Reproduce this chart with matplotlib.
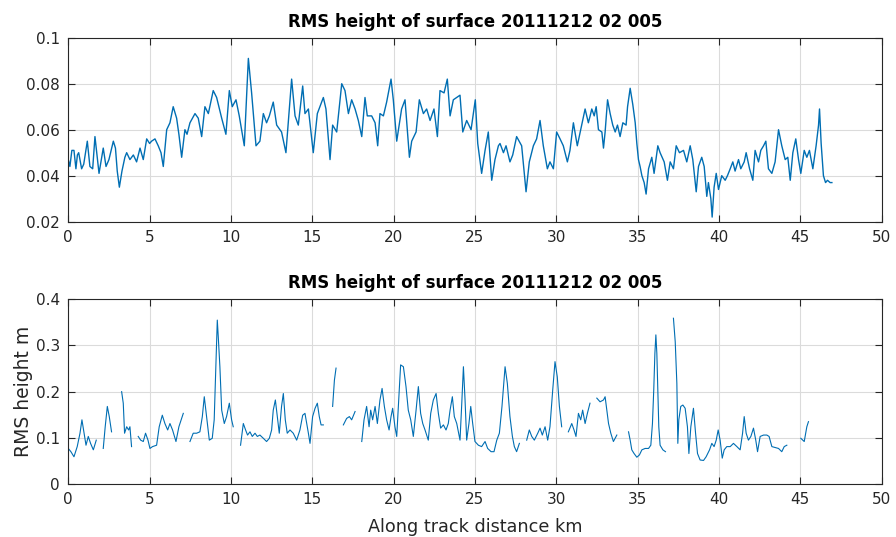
import numpy as np
import matplotlib
matplotlib.use("Agg")
import matplotlib.pyplot as plt

# ---------------- data ----------------
title_text = "RMS height of surface 20111212 02 005"
xlabel_text = "Along track distance km"
ylabel_text = "RMS height m"

top_km = [0.00, 0.10, 0.22, 0.35, 0.47, 0.56, 0.64, 0.82, 0.95, 1.17, 1.33, 1.50, 1.64, 1.75, 1.89,
          2.15, 2.32, 2.50, 2.77, 2.90, 3.01, 3.14, 3.30, 3.48, 3.59, 3.79, 4.00, 4.20, 4.41, 4.61,
          4.82, 5.00, 5.12, 5.33, 5.53, 5.70, 5.84, 6.05, 6.25, 6.45, 6.66, 6.80, 6.97, 7.17, 7.30,
          7.48, 7.79, 7.99, 8.20, 8.40, 8.61, 8.91, 9.12, 9.43, 9.69, 9.90, 10.08, 10.31, 10.51,
          10.82, 11.07, 11.27, 11.54, 11.78, 11.99, 12.19, 12.36, 12.60, 12.81, 13.11, 13.38, 13.73,
          13.94, 14.14, 14.41, 14.55, 14.76, 15.06, 15.31, 15.47, 15.68, 15.84, 16.09, 16.25, 16.50,
          16.81, 17.01, 17.22, 17.42, 17.63, 17.83, 18.04, 18.24, 18.38, 18.65, 18.86, 19.02, 19.16,
          19.37, 19.57, 19.84, 19.98, 20.19, 20.49, 20.70, 20.97, 21.11, 21.38, 21.58, 21.83, 22.03,
          22.24, 22.48, 22.69, 22.85, 23.10, 23.30, 23.47, 23.67, 23.88, 24.08, 24.25, 24.49, 24.76,
          25.02, 25.17, 25.41, 25.62, 25.82, 26.03, 26.23, 26.44, 26.54, 26.75, 26.91, 27.15, 27.32,
          27.56, 27.87, 28.14, 28.34, 28.59, 28.79, 29.00, 29.20, 29.45, 29.61, 29.82, 30.02, 30.23,
          30.43, 30.68, 30.84, 31.05, 31.29, 31.56, 31.77, 31.97, 32.08, 32.18, 32.33, 32.45, 32.59,
          32.80, 32.90, 33.00, 33.15, 33.31, 33.47, 33.62, 33.76, 33.92, 34.09, 34.29, 34.38, 34.54,
          34.70, 34.85, 34.95, 35.05, 35.15, 35.26, 35.40, 35.52, 35.67, 35.87, 36.01, 36.24, 36.38,
          36.63, 36.83, 37.00, 37.20, 37.37, 37.57, 37.82, 38.02, 38.23, 38.39, 38.60, 38.74, 38.94,
          39.09, 39.25, 39.35, 39.50, 39.58, 39.70, 39.83, 39.97, 40.17, 40.38, 40.52, 40.69, 40.85,
          40.99, 41.20, 41.34, 41.55, 41.67, 41.88, 42.08, 42.22, 42.43, 42.57, 42.74, 42.88, 43.04,
          43.25, 43.45, 43.66, 43.86, 44.07, 44.23, 44.38, 44.54, 44.72, 44.89, 45.03, 45.24, 45.40,
          45.56, 45.77, 45.97, 46.12, 46.18, 46.28, 46.42, 46.55, 46.67, 46.83, 46.94]
top_rms = [0.047, 0.044, 0.051, 0.051, 0.043, 0.049, 0.050, 0.043, 0.045, 0.055, 0.044, 0.043, 0.057, 0.050, 0.041,
           0.052, 0.044, 0.047, 0.055, 0.052, 0.042, 0.035, 0.042, 0.048, 0.050, 0.047, 0.049, 0.046, 0.052, 0.047,
           0.056, 0.054, 0.055, 0.056, 0.053, 0.050, 0.044, 0.060, 0.063, 0.070, 0.065, 0.058, 0.048, 0.060, 0.058,
           0.063, 0.067, 0.065, 0.057, 0.070, 0.067, 0.077, 0.074, 0.065, 0.058, 0.077, 0.070, 0.073, 0.066,
           0.053, 0.091, 0.076, 0.053, 0.055, 0.067, 0.063, 0.066, 0.072, 0.062, 0.059, 0.050, 0.082,
           0.066, 0.062, 0.079, 0.067, 0.069, 0.050, 0.067, 0.070, 0.074, 0.069, 0.047, 0.062, 0.059,
           0.080, 0.077, 0.067, 0.073, 0.069, 0.064, 0.057, 0.074, 0.066, 0.066, 0.063, 0.053, 0.067,
           0.066, 0.072, 0.082, 0.073, 0.055, 0.069, 0.073, 0.048, 0.055, 0.059, 0.073, 0.067, 0.069,
           0.064, 0.069, 0.057, 0.077, 0.076, 0.082, 0.066, 0.073, 0.074, 0.075, 0.059, 0.064, 0.060,
           0.073, 0.054, 0.041, 0.051, 0.059, 0.038, 0.047, 0.053, 0.054, 0.050, 0.053, 0.046, 0.049,
           0.057, 0.053, 0.033, 0.046, 0.053, 0.056, 0.064, 0.053, 0.043, 0.046, 0.043, 0.059, 0.056,
           0.053, 0.046, 0.051, 0.063, 0.053, 0.062, 0.069, 0.063, 0.066, 0.069, 0.066, 0.070, 0.060,
           0.059, 0.052, 0.059, 0.073, 0.067, 0.062, 0.059, 0.062, 0.057, 0.063, 0.062, 0.070, 0.078,
           0.071, 0.063, 0.054, 0.047, 0.044, 0.040, 0.037, 0.032, 0.043, 0.048, 0.041, 0.053, 0.050,
           0.046, 0.038, 0.046, 0.043, 0.053, 0.050, 0.051, 0.046, 0.053, 0.047, 0.033, 0.044, 0.048,
           0.044, 0.031, 0.037, 0.030, 0.022, 0.035, 0.041, 0.034, 0.040, 0.038, 0.040, 0.043, 0.046,
           0.042, 0.047, 0.043, 0.046, 0.050, 0.043, 0.038, 0.051, 0.046, 0.051, 0.053, 0.055, 0.043,
           0.041, 0.046, 0.060, 0.053, 0.047, 0.048, 0.038, 0.050, 0.056, 0.047, 0.041, 0.051, 0.048,
           0.051, 0.043, 0.053, 0.062, 0.069, 0.054, 0.040, 0.037, 0.038, 0.037, 0.037]

nan = np.nan
bot_km = [0.00, 0.16, 0.35, 0.55, 0.72, 0.84, 0.96, 1.09, 1.23, 1.37, 1.54, 1.72, nan,
          2.15, 2.27, 2.40, 2.52, 2.66, nan,
          3.28, 3.38, 3.46, 3.59, 3.71, 3.79, 3.89, nan,
          4.30, 4.45, 4.61, 4.75, 4.90, 5.02, 5.18, 5.43, 5.59, 5.78, 5.94, 6.11, 6.25, 6.41, 6.62, 6.80, 7.07, nan,
          7.48, 7.68, 7.89, 8.09, 8.24, 8.36, 8.50, 8.67, 8.85, 8.97, 9.08, 9.16, 9.22, 9.32, 9.43, 9.59,
          9.73, 9.90, 10.04, 10.14, nan,
          10.59, 10.76, 10.90, 11.02, 11.17, 11.31, 11.48, 11.62, 11.78, 11.99, 12.19, 12.36, 12.50, 12.60,
          12.73, 12.85, 12.97, 13.11, 13.22, 13.34, 13.46, 13.63, 13.83, 14.04, 14.24, 14.41, 14.55, 14.76,
          14.86, 15.02, 15.17, 15.31, 15.43, 15.54, 15.68, nan,
          16.25, 16.36, 16.46, nan,
          16.91, 17.11, 17.28, 17.42, 17.63, nan,
          18.04, 18.18, 18.34, 18.49, 18.59, 18.71, 18.86, 19.00, 19.16, 19.29, 19.43, 19.57, 19.72, 19.84,
          19.94, 20.08, 20.19, 20.31, 20.43, 20.60, 20.76, 20.90, 21.05, 21.21, 21.38, 21.52, 21.66, 21.79,
          21.93, 22.13, 22.28, 22.44, 22.61, 22.75, 22.89, 23.06, 23.22, 23.36, 23.47, 23.61, 23.73, 23.88,
          24.08, 24.18, 24.29, 24.39, 24.49, 24.63, 24.74, 24.86, 25.00, 25.21, 25.41, 25.62, 25.78, 25.99,
          26.17, 26.34, 26.50, 26.66, 26.85, 26.99, 27.15, 27.30, 27.42, 27.56, 27.73, nan,
          28.18, 28.34, 28.49, 28.65, 28.86, 29.00, 29.14, 29.31, 29.47, 29.61, 29.78, 29.92, 30.06, 30.19, 30.33, nan,
          30.74, 30.95, 31.09, 31.21, 31.36, 31.50, 31.62, 31.77, 31.91, 32.07, nan,
          32.49, 32.69, 32.90, 33.00, 33.21, 33.35, 33.51, 33.72, nan,
          34.44, 34.54, 34.64, 34.78, 34.95, 35.11, 35.26, 35.46, 35.67, 35.81, 35.91, 35.99, 36.06, 36.12,
          36.18, 36.24, 36.30, 36.38, 36.55, 36.71, nan,
          37.20, 37.31, 37.41, 37.47, 37.53, 37.65, 37.78, 37.92, 38.06, 38.15, 38.27, 38.43, 38.56, 38.68,
          38.84, 39.05, 39.21, 39.42, 39.56, 39.70, 39.83, 39.95, 40.07, 40.20, 40.32, 40.48, 40.69, 40.89,
          41.10, 41.30, 41.45, 41.55, 41.67, 41.81, 41.96, 42.12, 42.26, 42.37, 42.53, 42.74, 42.94, 43.08,
          43.25, 43.45, 43.66, 43.86, 44.01, 44.17, nan,
          45.03, 45.24, 45.40, 45.50]
bot_rms = [0.077, 0.070, 0.059, 0.081, 0.110, 0.139, 0.113, 0.084, 0.103, 0.088, 0.074, 0.095, nan,
           0.077, 0.124, 0.168, 0.146, 0.113, nan,
           0.200, 0.175, 0.110, 0.124, 0.117, 0.124, 0.081, nan,
           0.103, 0.095, 0.092, 0.110, 0.095, 0.077, 0.081, 0.084, 0.124, 0.149, 0.131, 0.117, 0.131, 0.117, 0.092, 0.124, 0.153, nan,
           0.092, 0.110, 0.110, 0.113, 0.146, 0.189, 0.146, 0.095, 0.099, 0.139, 0.261, 0.355, 0.319, 0.254, 0.160, 0.131,
           0.146, 0.175, 0.139, 0.124, nan,
           0.084, 0.131, 0.117, 0.106, 0.113, 0.103, 0.110, 0.103, 0.106, 0.099, 0.092, 0.099, 0.117, 0.160,
           0.182, 0.146, 0.110, 0.168, 0.196, 0.139, 0.110, 0.117, 0.110, 0.095, 0.117, 0.149, 0.153, 0.110,
           0.088, 0.146, 0.164, 0.175, 0.146, 0.128, 0.128, nan,
           0.168, 0.225, 0.251, nan,
           0.128, 0.142, 0.146, 0.139, 0.157, nan,
           0.092, 0.139, 0.168, 0.124, 0.160, 0.139, 0.168, 0.131, 0.182, 0.207, 0.168, 0.139, 0.117, 0.146,
           0.164, 0.124, 0.103, 0.182, 0.258, 0.254, 0.211, 0.160, 0.139, 0.103, 0.160, 0.211, 0.153, 0.131,
           0.117, 0.095, 0.153, 0.182, 0.196, 0.153, 0.121, 0.128, 0.117, 0.131, 0.160, 0.189, 0.146, 0.131,
           0.095, 0.168, 0.254, 0.182, 0.095, 0.131, 0.168, 0.131, 0.092, 0.084, 0.081, 0.092, 0.077, 0.070,
           0.070, 0.095, 0.110, 0.168, 0.254, 0.218, 0.146, 0.103, 0.081, 0.070, 0.088, nan,
           0.095, 0.117, 0.103, 0.095, 0.110, 0.121, 0.106, 0.124, 0.095, 0.124, 0.204, 0.265, 0.232, 0.168, 0.124, nan,
           0.113, 0.131, 0.117, 0.103, 0.153, 0.139, 0.160, 0.131, 0.153, 0.175, nan,
           0.186, 0.178, 0.182, 0.189, 0.131, 0.110, 0.092, 0.106, nan,
           0.113, 0.095, 0.074, 0.066, 0.058, 0.063, 0.074, 0.077, 0.077, 0.084, 0.131, 0.204, 0.283, 0.323,
           0.283, 0.204, 0.124, 0.084, 0.074, 0.070, nan,
           0.359, 0.308, 0.218, 0.088, 0.139, 0.168, 0.171, 0.164, 0.124, 0.066, 0.124, 0.164, 0.110, 0.066,
           0.052, 0.051, 0.059, 0.074, 0.088, 0.081, 0.095, 0.117, 0.095, 0.056, 0.074, 0.081, 0.081, 0.088,
           0.081, 0.074, 0.110, 0.146, 0.110, 0.095, 0.103, 0.121, 0.095, 0.070, 0.103, 0.106, 0.106, 0.103,
           0.081, 0.079, 0.077, 0.070, 0.081, 0.084, nan,
           0.099, 0.092, 0.124, 0.135]

top_yticks = [0.02, 0.04, 0.06, 0.08, 0.1]
top_yticklabels = ["0.02", "0.04", "0.06", "0.08", "0.1"]
bot_yticks = [0, 0.1, 0.2, 0.3, 0.4]
bot_yticklabels = ["0", "0.1", "0.2", "0.3", "0.4"]
xticks = [0, 5, 10, 15, 20, 25, 30, 35, 40, 45, 50]

# ---------------- style ----------------
plt.rcParams['font.family'] = ['DejaVu Sans']
line_color = (0.0, 0.43, 0.70)
axis_gray = (0.15, 0.15, 0.15)

fig = plt.figure(figsize=(8.96, 5.37), dpi=100)
ax1 = fig.add_axes([0.0762, 0.5872, 0.9078, 0.3426])
ax2 = fig.add_axes([0.0762, 0.0987, 0.9078, 0.3439])

def style(ax, yticks, ylabels, ylim):
    ax.set_xlim(0, 50)
    ax.set_ylim(*ylim)
    ax.set_xticks(xticks)
    ax.set_xticklabels([str(t) for t in xticks])
    ax.set_yticks(yticks)
    ax.set_yticklabels(ylabels)
    ax.grid(True, color=(0.86, 0.86, 0.86), linewidth=0.8)
    ax.set_axisbelow(True)
    ax.tick_params(direction='in', length=5, width=0.8, colors=axis_gray,
                   labelsize=11, top=True, right=True, pad=6)
    for s in ax.spines.values():
        s.set_color(axis_gray)
        s.set_linewidth(0.8)
    ax.set_title(title_text, fontsize=12, fontweight='bold', color='black', pad=8)

ax1.plot(top_km, top_rms, color=line_color, linewidth=1.0)
style(ax1, top_yticks, top_yticklabels, (0.02, 0.1))

ax2.plot(bot_km, bot_rms, color=line_color, linewidth=0.8)
style(ax2, bot_yticks, bot_yticklabels, (0, 0.4))
ax2.set_xlabel(xlabel_text, fontsize=12.7, color=axis_gray, labelpad=8)
ax2.set_ylabel(ylabel_text, fontsize=13.5, color=axis_gray, labelpad=2)

fig.savefig("out.png", dpi=100)
